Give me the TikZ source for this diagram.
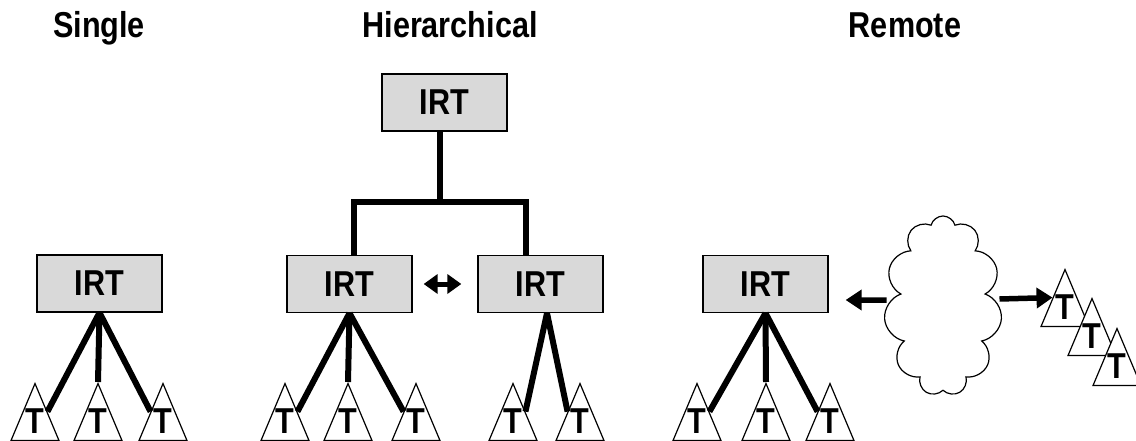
\documentclass[tikz,border=0pt]{standalone}
\usepackage{fontspec}
\setmainfont{Liberation Sans}[FakeStretch=0.85]
\usepackage{tikz}
\usetikzlibrary{calc,shapes.geometric,shapes.symbols,arrows.meta}

\begin{document}
\begin{tikzpicture}[x=1pt, y=-1pt,
  every node/.style = {font=\bfseries\fontsize{36}{38}\selectfont},
  irt/.style = {shape=rectangle, draw, line width=1.3pt, fill=gray!30,
    minimum width=125pt, minimum height=57pt},
  term/.style = {shape=isosceles triangle, shape border rotate=90,
    isosceles triangle stretches, draw, line width=1.2pt, fill=white,
    minimum width=48pt, minimum height=57pt, inner sep=0pt,
    text height=0pt, text depth=0pt,
    execute at begin node={\hbox to 0pt\bgroup\hss\lower9pt\hbox\bgroup},
    execute at end node={\egroup\hss\egroup}, anchor=apex},
  link/.style = {line width=6pt},
  arr/.style = {line width=5.5pt, -{Triangle[length=16pt,width=20pt]}}]
  \useasboundingbox (0,0) rectangle (1136,441);

  % headings
  \node[anchor=base] (tsingle) at (99,38) {Single};
  \node[anchor=base] (thier) at (450,38) {Hierarchical};
  \node[anchor=base] (tremote) at (905,38) {Remote};

  % single
  \node[irt] (s) at (99.5,283.5) {IRT};
  \node[term] (s1) at (35,382) {T};
  \node[term] (s2) at (98,382) {T};
  \node[term] (s3) at (163,382) {T};
  \draw[link] (s.south) -- (s1.right side);
  \draw[link] (s.south) -- (s2.apex);
  \draw[link] (s.south) -- (s3.left side);

  % hierarchical
  \node[irt] (h) at (444.5,102.5) {IRT};
  \node[irt] (h1) at (349.5,284) {IRT};
  \node[irt] (h2) at (540.5,284) {IRT};
  \coordinate (hbar) at (440,202);
  \draw[link] ([xshift=-5pt]h.south) -- ([xshift=-5pt]h.south |- hbar);
  \draw[link] ([xshift=4.5pt]h1.north) |- (hbar) -| ([xshift=-14.5pt]h2.north);
  \draw[line width=5pt, {Triangle[length=14pt,width=19pt]}-{Triangle[length=14pt,width=19pt]},
    shorten <=11pt, shorten >=16pt] (h1) -- (h2);
  \node[term] (h11) at (285,382) {T};
  \node[term] (h12) at (348,382) {T};
  \node[term] (h13) at (416,382) {T};
  \draw[link] (h1.south) -- (h11.right side);
  \draw[link] (h1.south) -- (h12.apex);
  \draw[link] (h1.south) -- (h13.left side);
  \node[term] (h21) at (513,382) {T};
  \node[term] (h22) at (580,382) {T};
  \draw[link] ([xshift=6.5pt]h2.south) -- (h21.right side);
  \draw[link] ([xshift=6.5pt]h2.south) -- (h22.left side);

  % remote
  \node[irt] (r) at (765.5,284) {IRT};
  \node[term] (r1) at (697,382) {T};
  \node[term] (r2) at (766,382) {T};
  \node[term] (r3) at (830,382) {T};
  \draw[link] (r.south) -- (r1.right side);
  \draw[link] (r.south) -- (r2.apex);
  \draw[link] (r.south) -- (r3.left side);
  \node[cloud, draw, line width=1.2pt, cloud puffs=11, cloud ignores aspect,
    minimum width=118pt, minimum height=180pt] (net) at (943,306) {};
  \node[term] (ra) at (1065,268) {T};
  \node[term] (rb) at (1092,297) {T};
  \node[term] (rc) at (1117,327) {T};
  \draw[arr, shorten >=17pt] ($(net.west)+(0,-6)$) -- ($(r.east)+(0,16)$);
  \draw[arr] ($(net.east)+(0,-7)$) -- (ra.left side);
\end{tikzpicture}
\end{document}
